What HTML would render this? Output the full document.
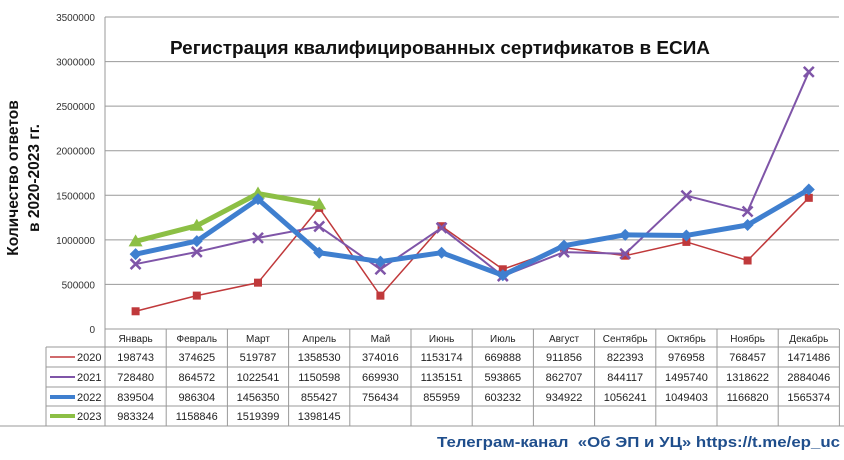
<!DOCTYPE html>
<html><head><meta charset="utf-8"><style>
body{margin:0;background:#fff;width:844px;height:455px;overflow:hidden;font-family:"Liberation Sans",sans-serif}
svg text{font-family:"Liberation Sans","DejaVu Sans",sans-serif}
</style></head><body>
<svg id="s" width="844" height="455" xmlns="http://www.w3.org/2000/svg"></svg>
<script>
const s=document.getElementById('s');
let h='';
const L=105,W=61.2,Y0=329,K=44.57/500000;
for(let i=1;i<=7;i++){const y=Y0-i*500000*K;h+=`<line x1="${L}" y1="${y}" x2="839" y2="${y}" stroke="#999" stroke-width="1"/>`;}
for(let i=0;i<=7;i++){const y=Y0-i*500000*K;h+=`<text x="95" y="${y+4}" font-size="10" text-anchor="end" fill="#333">${i*500000}</text>`;}
h+=`<line x1="${L}" y1="17" x2="${L}" y2="426" stroke="#999"/>`;
h+=`<text x="440" y="54" font-size="18.5" font-weight="bold" text-anchor="middle" fill="#111" textLength="540" lengthAdjust="spacingAndGlyphs">Регистрация квалифицированных сертификатов в ЕСИА</text>`;
h+=`<text transform="translate(18,178) rotate(-90)" font-size="15.5" font-weight="bold" text-anchor="middle" fill="#111">Количество ответов</text>`;
h+=`<text transform="translate(39,178) rotate(-90)" font-size="15.5" font-weight="bold" text-anchor="middle" fill="#111">в 2020-2023 гг.</text>`;
const rows=[347,367,387,406,426];
h+=`<line x1="${L}" y1="${Y0}" x2="839" y2="${Y0}" stroke="#999"/>`;
for(const y of rows){h+=`<line x1="${y==426?0:46}" y1="${y}" x2="${y==426?844:839}" y2="${y}" stroke="#999"/>`;}
h+=`<line x1="46" y1="347" x2="46" y2="426" stroke="#999"/>`;
for(let i=1;i<=12;i++){const x=L+i*W;h+=`<line x1="${x}" y1="${Y0}" x2="${x}" y2="426" stroke="#999"/>`;}
const m=['Январь','Февраль','Март','Апрель','Май','Июнь','Июль','Август','Сентябрь','Октябрь','Ноябрь','Декабрь'];
m.forEach((t,i)=>h+=`<text x="${L+W*(i+.5)}" y="342" font-size="10" text-anchor="middle" fill="#222">${t}</text>`);
const D=[
[198743,374625,519787,1358530,374016,1153174,669888,911856,822393,976958,768457,1471486],
[728480,864572,1022541,1150598,669930,1135151,593865,862707,844117,1495740,1318622,2884046],
[839504,986304,1456350,855427,756434,855959,603232,934922,1056241,1049403,1166820,1565374],
[983324,1158846,1519399,1398145]];
const C=['#c0393b','#7f55a8','#3f7fcf','#8cbf45'],SW=[1.5,2,5,5],Y=['2020','2021','2022','2023'];
D.forEach((r,j)=>{const ty=rows[j]+14;
 h+=`<line x1="50" y1="${ty-4}" x2="75" y2="${ty-4}" stroke="${C[j]}" stroke-width="${Math.min(SW[j],4)}"/>`;
 h+=`<text x="77" y="${ty}" font-size="11" fill="#222">${Y[j]}</text>`;
 r.forEach((v,i)=>h+=`<text x="${L+W*(i+.5)}" y="${ty}" font-size="11" text-anchor="middle" fill="#222">${v}</text>`);
});
const order=[0,1,3,2];
order.forEach(j=>{const r=D[j];const pts=r.map((v,i)=>[L+W*(i+.5),Y0-v*K]);
 h+=`<polyline points="${pts.map(p=>p.join(',')).join(' ')}" fill="none" stroke="${C[j]}" stroke-width="${SW[j]}" stroke-linejoin="round"/>`;
 pts.forEach(([x,y])=>{
  if(j==0)h+=`<rect x="${x-4}" y="${y-4}" width="8" height="8" fill="${C[j]}"/>`;
  else if(j==1)h+=`<path d="M${x-5} ${y-5}L${x+5} ${y+5}M${x+5} ${y-5}L${x-5} ${y+5}" stroke="${C[j]}" stroke-width="2.5"/>`;
  else if(j==2)h+=`<path d="M${x} ${y-6}L${x+6} ${y}L${x} ${y+6}L${x-6} ${y}Z" fill="${C[j]}"/>`;
  else h+=`<path d="M${x} ${y-7}L${x+7} ${y+5}L${x-7} ${y+5}Z" fill="${C[j]}"/>`;
 });
});
h+=`<text x="840" y="447" font-size="15" font-weight="bold" text-anchor="end" fill="#1f4e8c" textLength="403" lengthAdjust="spacingAndGlyphs">Телеграм-канал&#160;&#160;«Об ЭП и УЦ» https://t.me/ep_uc</text>`;
s.innerHTML=h;
</script>
</body></html>
